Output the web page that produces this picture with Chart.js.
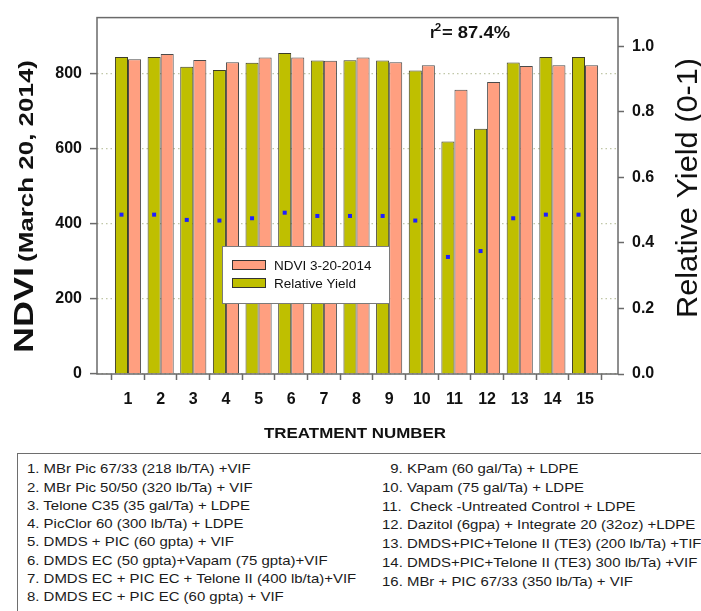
<!DOCTYPE html>
<html>
<head>
<meta charset="utf-8">
<script src="https://cdn.jsdelivr.net/npm/chart.js@4.4.1/dist/chart.umd.min.js"></script>
<style>
  html, body { margin:0; padding:0; background:#fff; width:701px; height:611px; overflow:hidden; }
  #wrap { position:absolute; left:0; top:0; width:701px; height:445px; }
  #key { position:absolute; left:17px; top:453px; width:720px; height:220px;
         border-top:1.5px solid #6e6e6e; border-left:1.5px solid #6e6e6e;
         font-family:"Liberation Sans", Arial, sans-serif; font-size:13px; color:#1b1b1b; }
  .col { position:absolute; white-space:pre; transform:scaleX(1.15); transform-origin:0 0; }
  #colL { left:8.5px; top:6.3px; line-height:18.3px; }
  #colR { left:363.5px; top:6.1px; line-height:18.8px; }
</style>
</head>
<body>
<div id="wrap"><canvas id="chart" width="701" height="445"></canvas></div>
<div id="key">
  <div class="col" id="colL"></div>
  <div class="col" id="colR"></div>
</div>
<script>
// treatment numbers on the x axis
const treatments = [1, 2, 3, 4, 5, 6, 7, 8, 9, 10, 11, 12, 13, 14, 15];
// NDVI 3-20-2014 (left axis)
const ndvi = [837, 851, 835, 829, 842, 842, 833, 842, 829, 821, 756, 777, 819, 821, 821];
// relative yield (right axis, 0-1)
const relYield = [0.967, 0.967, 0.937, 0.927, 0.949, 0.979, 0.956, 0.957, 0.956, 0.926, 0.709, 0.748, 0.950, 0.967, 0.967];
// small blue markers inside the yield bars (right axis)
const dotVals = [0.486, 0.486, 0.470, 0.468, 0.475, 0.492, 0.482, 0.482, 0.482, 0.468, 0.357, 0.375, 0.475, 0.486, 0.486];
const ndviTicks = [0, 200, 400, 600, 800];
const yieldTicks = [0, 0.2, 0.4, 0.6, 0.8, 1.0];

const keyLeft = [
  '1. MBr Pic 67/33 (218 lb/TA) +VIF',
  '2. MBr Pic 50/50 (320 lb/Ta) + VIF',
  '3. Telone C35 (35 gal/Ta) + LDPE',
  '4. PicClor 60 (300 lb/Ta) + LDPE',
  '5. DMDS + PIC (60 gpta) + VIF',
  '6. DMDS EC (50 gpta)+Vapam (75 gpta)+VIF',
  '7. DMDS EC + PIC EC + Telone II (400 lb/ta)+VIF',
  '8. DMDS EC + PIC EC (60 gpta) + VIF'
];
const keyRight = [
  '  9. KPam (60 gal/Ta) + LDPE',
  '10. Vapam (75 gal/Ta) + LDPE',
  '11.  Check -Untreated Control + LDPE',
  '12. Dazitol (6gpa) + Integrate 20 (32oz) +LDPE',
  '13. DMDS+PIC+Telone II (TE3) (200 lb/Ta) +TIF',
  '14. DMDS+PIC+Telone II (TE3) 300 lb/Ta) +VIF',
  '16. MBr + PIC 67/33 (350 lb/Ta) + VIF'
];
document.getElementById('colL').textContent = keyLeft.join('\n');
document.getElementById('colR').textContent = keyRight.join('\n');

const OLIVE = '#bfbf00', SALMON = '#ff9f80', AXIS = '#6a6a6a';
const FONT = '"Liberation Sans", Arial, sans-serif';
Chart.defaults.font.family = FONT;
Chart.defaults.color = '#111';

// draw text squeezed/stretched to a given length
function fitText(ctx, text, x, y, font, w) {
  ctx.font = font;
  const s = w / ctx.measureText(text).width;
  ctx.save(); ctx.translate(x, y); ctx.scale(s, 1);
  ctx.textAlign = 'left'; ctx.textBaseline = 'alphabetic';
  ctx.fillText(text, 0, 0);
  ctx.restore();
}

const extras = {
  id: 'extras',
  afterDatasetsDraw(chart) {
    const ctx = chart.ctx, yR = chart.scales.y1;
    // blue markers at the centre of each yield bar
    ctx.save();
    ctx.fillStyle = '#1f1fff';
    chart.getDatasetMeta(0).data.forEach((bar, i) => {
      const y = yR.getPixelForValue(dotVals[i]);
      ctx.fillRect(bar.x - 2, y - 2, 4, 4);
    });
    ctx.restore();
  },
  afterDraw(chart) {
    const ctx = chart.ctx, a = chart.chartArea;
    ctx.save();
    // frame
    ctx.strokeStyle = AXIS; ctx.lineWidth = 1.5;
    ctx.strokeRect(a.left, a.top, a.right - a.left, a.bottom - a.top);

    ctx.fillStyle = '#111';
    // r squared note
    ctx.font = 'bold 16px ' + FONT; ctx.textBaseline = 'alphabetic'; ctx.textAlign = 'left';
    ctx.fillText('r', 430, 37.5);
    ctx.font = 'bold 11px ' + FONT;
    ctx.fillText('2', 435, 31);
    fitText(ctx, '= 87.4%', 442, 37.5, 'bold 16px ' + FONT, 68);

    // legend
    const lx = 222, ly = 246;
    ctx.fillStyle = '#fff'; ctx.fillRect(lx, ly, 167, 57);
    ctx.strokeStyle = '#7a7a7a'; ctx.lineWidth = 1; ctx.strokeRect(lx + 0.5, ly + 0.5, 167, 57);
    [[SALMON, 'NDVI 3-20-2014', 14], [OLIVE, 'Relative Yield', 32]].forEach(([c, t, dy]) => {
      ctx.fillStyle = c; ctx.fillRect(lx + 10, ly + dy, 34, 9.5);
      ctx.strokeStyle = '#333'; ctx.strokeRect(lx + 10.5, ly + dy + 0.5, 33, 9);
      ctx.fillStyle = '#111'; ctx.font = '13.5px ' + FONT;
      ctx.fillText(t, lx + 52, ly + dy + 9.5);
    });

    // x axis title
    ctx.fillStyle = '#111';
    fitText(ctx, 'TREATMENT NUMBER', 264, 437.5, 'bold 15px ' + FONT, 182);

    // left axis title
    ctx.save();
    ctx.translate(33, 353); ctx.rotate(-Math.PI / 2);
    fitText(ctx, 'NDVI', 0, 0, 'bold 28px ' + FONT, 86);
    fitText(ctx, '(March 20, 2014)', 91, 0, 'bold 21px ' + FONT, 202);
    ctx.restore();

    // right axis title
    ctx.save();
    ctx.translate(697, 318); ctx.rotate(-Math.PI / 2);
    fitText(ctx, 'Relative Yield (0-1)', 0, 0, '29px ' + FONT, 260);
    ctx.restore();
    ctx.restore();
  }
};

const tickFont = { size: 16, weight: 'bold', family: FONT };

new Chart(document.getElementById('chart'), {
  type: 'bar',
  data: {
    labels: treatments,
    datasets: [
      { label: 'Relative Yield', data: relYield, yAxisID: 'y1', backgroundColor: OLIVE,
        borderColor: '#3c3c28', borderWidth: 1 },
      { label: 'NDVI 3-20-2014', data: ndvi, yAxisID: 'y', backgroundColor: SALMON,
        borderColor: '#4a4a4a', borderWidth: 1 }
    ]
  },
  options: {
    responsive: false,
    animation: false,
    devicePixelRatio: 1,
    layout: { padding: { top: 9, left: 0, right: 0, bottom: 0 } },
    datasets: { bar: { barPercentage: 1.0, categoryPercentage: 0.8 } },
    plugins: { legend: { display: false }, tooltip: { enabled: false } },
    scales: {
      x: {
        type: 'linear', offset: false, min: 0.05, max: 16.01,
        afterBuildTicks: s => { s.ticks = treatments.map(v => ({ value: v })); },
        afterFit: s => { s.height = 71; },
        grid: { drawOnChartArea: false, drawTicks: true, tickLength: 6, tickColor: AXIS, tickWidth: 1.5 },
        border: { display: false },
        ticks: { autoSkip: false, maxRotation: 0, padding: 10, font: tickFont, color: '#111' }
      },
      y: {
        position: 'left', min: 0, max: 948,
        afterBuildTicks: s => { s.ticks = ndviTicks.map(v => ({ value: v })); },
        afterFit: s => { s.width = 97; },
        grid: { color: 'rgba(165,175,130,0.7)', lineWidth: 1.2, tickLength: 7, tickColor: AXIS, tickWidth: 1.5 },
        border: { display: false, dash: [1.5, 3] },
        ticks: { padding: 8, font: tickFont, color: '#111' }
      },
      y1: {
        position: 'right', min: 0, max: 1.087,
        afterBuildTicks: s => { s.ticks = yieldTicks.map(v => ({ value: v })); },
        afterFit: s => { s.width = 83; },
        grid: { drawOnChartArea: false, tickLength: 6, tickColor: AXIS, tickWidth: 1.5 },
        border: { display: false },
        ticks: { padding: 8, font: tickFont, color: '#111', callback: v => v.toFixed(1) }
      }
    }
  },
  plugins: [extras]
});
</script>
</body>
</html>
